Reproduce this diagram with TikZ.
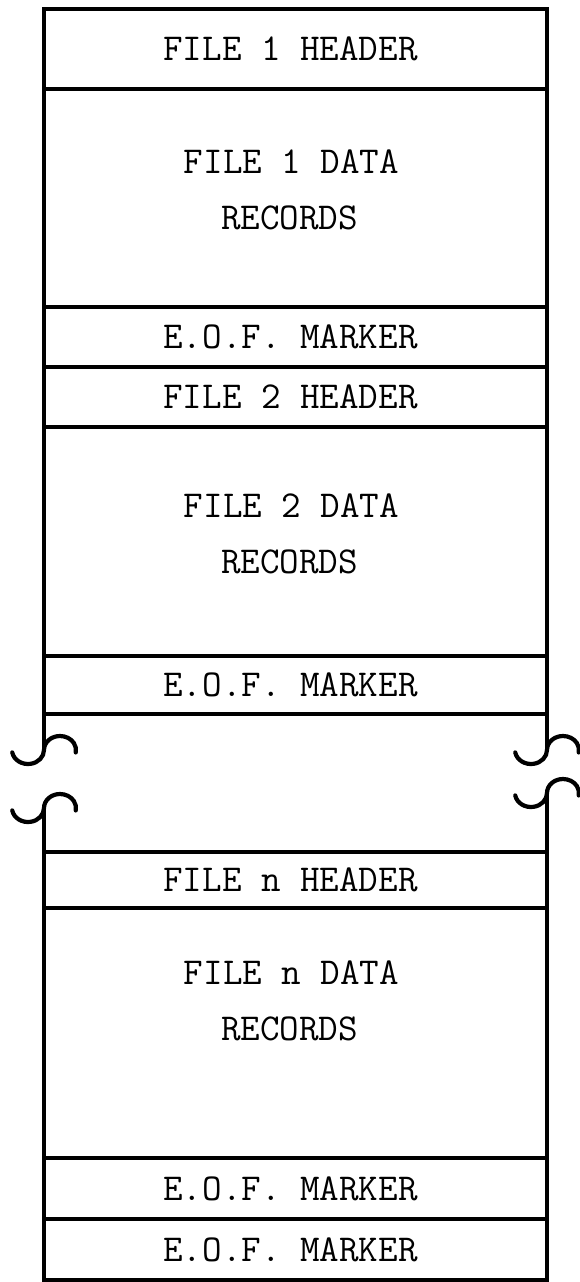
\documentclass[tikz,border=0pt]{standalone}
\usepackage{fontspec}
\usetikzlibrary{calc}
\tikzset{
  box/.style={draw, line width=4pt, rectangle, minimum width=503pt, inner sep=0pt, outer sep=0pt},
  lbl/.style={inner sep=0pt, font=\ttfamily\fontsize{38}{56}\selectfont},
  frame/.style={line width=4pt},
  wave/.style={line width=4.2pt, line cap=round},
}
\begin{document}
\begin{tikzpicture}[x=1pt,y=1pt]
\useasboundingbox (0,0) rectangle (579,-1282);
% boxes
\node[box, minimum height=80pt]  (h1) at (295.5,-49)    {};
\node[box, minimum height=218pt] (d1) at (295.5,-198)   {};
\node[box, minimum height=60pt]  (e1) at (295.5,-337)   {};
\node[box, minimum height=60pt]  (h2) at (295.5,-397)   {};
\node[box, minimum height=229pt] (d2) at (295.5,-541.5) {};
\node[box, minimum height=58pt]  (e2) at (295.5,-685)   {};
\node[box, minimum height=56pt]  (hn) at (295.5,-880)   {};
\node[box, minimum height=250pt] (dn) at (295.5,-1033)  {};
\node[box, minimum height=61pt]  (en) at (295.5,-1188.5){};
\node[box, minimum height=61pt]  (ef) at (295.5,-1249.5){};
% labels
\node[lbl] (h1t) at ($(h1.center)+(-5,0)$) {FILE 1 HEADER};
\node[lbl] (e1t) at ($(e1.center)+(-5,0)$) {E.O.F. MARKER};
\node[lbl] (h2t) at ($(h2.center)+(-5,0)$) {FILE 2 HEADER};
\node[lbl] (e2t) at ($(e2.center)+(-5,0)$) {E.O.F. MARKER};
\node[lbl] (hnt) at ($(hn.center)+(-5,0)$) {FILE n HEADER};
\node[lbl] (ent) at ($(en.center)+(-5,0)$) {E.O.F. MARKER};
\node[lbl] (eft) at ($(ef.center)+(-5,0)$) {E.O.F. MARKER};
\node[lbl, anchor=base] (d1a) at ($(d1.north)+(-4,-84)$)  {FILE 1 DATA};
\node[lbl, anchor=base] (d1b) at ($(d1.north)+(-6,-140)$) {RECORDS};
\node[lbl, anchor=base] (d2a) at ($(d2.north)+(-4,-90)$)  {FILE 2 DATA};
\node[lbl, anchor=base] (d2b) at ($(d2.north)+(-6,-146)$) {RECORDS};
\node[lbl, anchor=base] (dna) at ($(dn.north)+(-4,-76)$)  {FILE n DATA};
\node[lbl, anchor=base] (dnb) at ($(dn.north)+(-6,-132)$) {RECORDS};
% break points
\coordinate (bl1) at (44,-750);
\coordinate (bl2) at (44,-808);
\coordinate (br1) at (547,-750);
\coordinate (br2) at (547,-793);
% frame continuation
\draw[frame] (e2.south west) -- (bl1);
\draw[frame] (e2.south east) -- (br1);
\draw[frame] (bl2) -- (hn.north west);
\draw[frame] (br2) -- (hn.north east);
% break symbols
\foreach \p in {bl1,bl2,br1,br2}{
  \draw[wave] ($(\p)+(-31.76,-2.43)$) arc[start angle=190,end angle=360,x radius=16,y radius=14]
              arc[start angle=180,end angle=-10,x radius=16,y radius=14];
}
\end{tikzpicture}
\end{document}
